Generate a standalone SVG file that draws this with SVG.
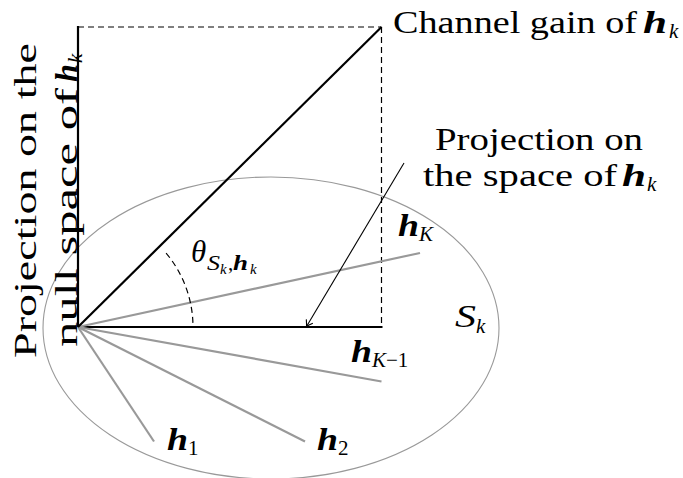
<svg xmlns="http://www.w3.org/2000/svg" width="683" height="478" viewBox="0 0 683 478">
<defs>
<style>
text{font-family:"Liberation Serif","DejaVu Serif",serif;fill:#000}
.t{font-size:32px}
.b{font-weight:bold;font-style:italic;font-size:31px}
.i{font-style:italic;font-size:31px}
.s{font-style:italic;font-size:21px}
.su{font-size:21px}
.ss{font-style:italic;font-size:15px}
.sb{font-weight:bold;font-style:italic;font-size:21px}
.solid{stroke:#000;stroke-width:2.2;fill:none}
.dash{stroke:#000;stroke-width:1.2;stroke-dasharray:6 4;fill:none}
.vec{stroke:#999;stroke-width:2.2;fill:none}
.thin{stroke:#000;stroke-width:1.1;fill:none}
</style>
<marker id="arr" viewBox="-7 -5 8 10" markerWidth="8" markerHeight="10" refX="0" refY="0" orient="auto" markerUnits="userSpaceOnUse">
<path d="M-6 -3.8 Q-2 -1 0 0 Q-2 1 -6 3.8" stroke="#000" stroke-width="1.1" fill="none"/>
</marker>
</defs>

<g id="subspace">
<ellipse cx="271" cy="328" rx="228" ry="151" fill="none" stroke="#999" stroke-width="1.1"/>
</g>

<g id="frame">
<line class="dash" x1="78" y1="27" x2="381.5" y2="27"/>
<line class="dash" x1="381.5" y1="27" x2="381.5" y2="327"/>
<line class="solid" x1="78" y1="26" x2="78" y2="327"/>
<line class="solid" x1="78" y1="327" x2="382.5" y2="327"/>
</g>

<g id="connectors">
<line class="vec" x1="78" y1="327" x2="420" y2="253"/>
<line class="vec" x1="78" y1="327" x2="381.5" y2="381.5"/>
<line class="vec" x1="78" y1="327" x2="305" y2="441.5"/>
<line class="vec" x1="78" y1="327" x2="154" y2="441.5"/>
<line class="solid" x1="78" y1="327" x2="381.5" y2="27" stroke-width="2"/>
<line class="thin" x1="404" y1="163" x2="306.5" y2="326.5" marker-end="url(#arr)"/>
<path class="dash" d="M166.1 253.1 A115 115 0 0 1 193 327" stroke-width="1"/>
</g>

<g id="label-channel-gain">
<text class="t" x="393" y="33" textLength="244" lengthAdjust="spacingAndGlyphs">Channel gain of</text>
<text class="b" x="643" y="33" textLength="24" lengthAdjust="spacingAndGlyphs">h</text>
<text class="s" x="669" y="38">k</text>
</g>

<g id="label-projection-space">
<text class="t" x="435" y="150" textLength="208" lengthAdjust="spacingAndGlyphs">Projection on</text>
<text class="t" x="423" y="186" textLength="194" lengthAdjust="spacingAndGlyphs">the space of</text>
<text class="b" x="622" y="186" textLength="24" lengthAdjust="spacingAndGlyphs">h</text>
<text class="s" x="647" y="191">k</text>
</g>

<g id="label-projection-null">
<text class="t" transform="translate(36,358) rotate(-90)" textLength="315" lengthAdjust="spacingAndGlyphs">Projection on the</text>
<g transform="translate(77,347) rotate(-90)">
<text class="t" x="0" y="0" textLength="259" lengthAdjust="spacingAndGlyphs">null space of</text>
<text class="b" x="265" y="0" textLength="18" lengthAdjust="spacingAndGlyphs">h</text>
<text class="s" x="284" y="5">k</text>
</g>
</g>

<g id="label-theta">
<text class="i" x="191" y="262">θ</text>
<text class="s" x="207" y="270" textLength="13" lengthAdjust="spacingAndGlyphs">S</text>
<text class="ss" x="220" y="274">k</text>
<text class="su" x="228" y="270">,</text>
<text class="sb" x="233" y="270" textLength="15" lengthAdjust="spacingAndGlyphs">h</text>
<text class="ss" x="250" y="274">k</text>
</g>

<g id="label-hK">
<text class="b" x="398" y="236" textLength="21" lengthAdjust="spacingAndGlyphs">h</text>
<text class="s" x="419" y="241">K</text>
</g>

<g id="label-Sk">
<text class="i" x="455" y="327" textLength="21" lengthAdjust="spacingAndGlyphs">S</text>
<text class="s" x="476" y="333">k</text>
</g>

<g id="label-hK-1">
<text class="b" x="351" y="362" textLength="21" lengthAdjust="spacingAndGlyphs">h</text>
<text class="s" x="372" y="367">K<tspan font-style="normal">−1</tspan></text>
</g>

<g id="label-h1">
<text class="b" x="167" y="450" textLength="21" lengthAdjust="spacingAndGlyphs">h</text>
<text class="su" x="188" y="455">1</text>
</g>

<g id="label-h2">
<text class="b" x="317" y="450" textLength="21" lengthAdjust="spacingAndGlyphs">h</text>
<text class="su" x="338" y="455">2</text>
</g>
</svg>
